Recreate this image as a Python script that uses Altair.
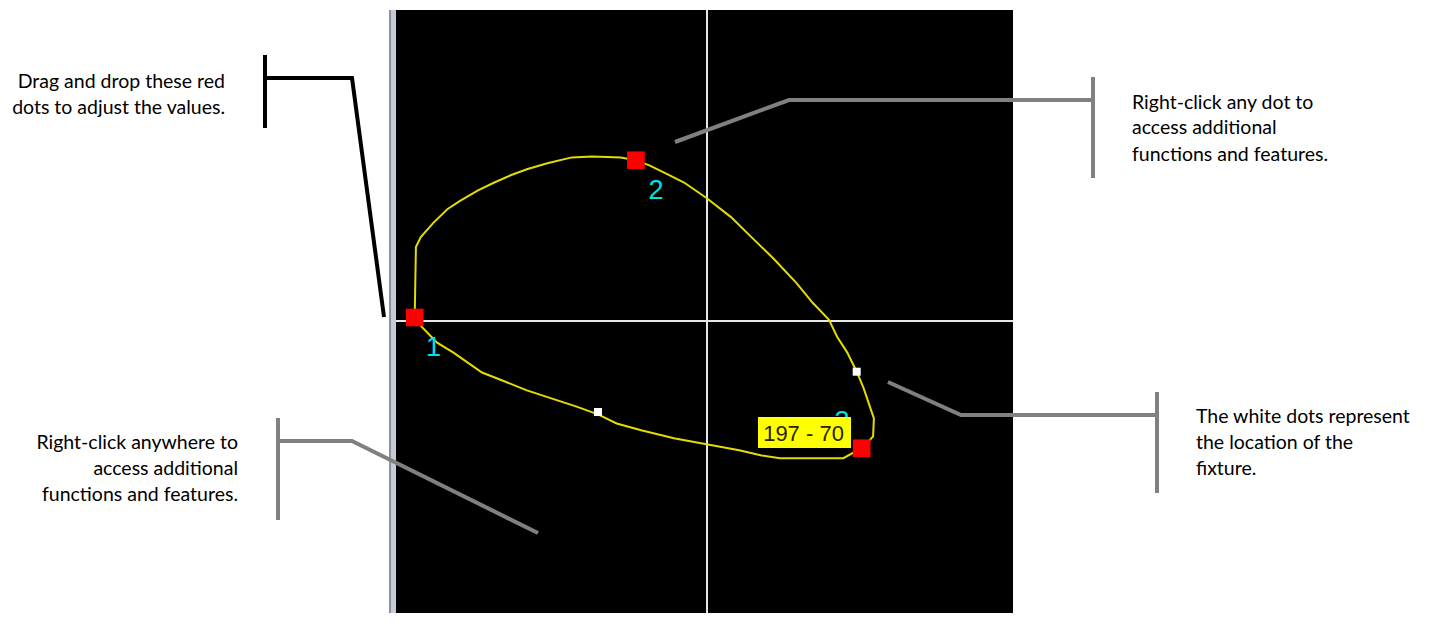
import altair as alt
import pandas as pd

# ---- diagram geometry (page pixel coordinates) ----
panel_x = [396, 1013]; panel_y = [10, 613]
strip_a = [389, 391.5]; strip_b = [391.5, 396]
grid_vx = 707; grid_hy = 321

curve_x = [414.7, 415.9, 420.8, 433.1, 447.3, 459.6, 478.0, 494.3, 510.6, 526.9, 547.3, 571.8,
           592.2, 620.8, 635.9, 649.4, 665.7, 684.1, 706.5, 731.0, 751.4, 773.9, 796.3, 812.7,
           829.0, 837.1, 847.3, 856.7, 863.7, 869.8, 873.9, 873.1, 867.8, 861.6, 843.3, 780.0,
           761.6, 739.2, 706.5, 673.9, 641.2, 616.7, 598.0, 575.9, 551.4, 526.9, 502.4, 482.0,
           453.5, 437.1, 420.8, 414.7]
curve_y = [317.5, 247.0, 237.1, 223.1, 209.2, 201.2, 190.4, 182.5, 175.3, 169.3, 163.3, 157.4,
           156.6, 157.4, 160.2, 165.3, 173.3, 182.5, 198.0, 217.1, 237.1, 259.0, 282.9, 302.8,
           319.9, 336.7, 352.6, 371.7, 388.4, 406.4, 418.3, 436.3, 442.2, 448.2, 458.2, 458.2,
           455.4, 450.2, 444.2, 438.2, 430.3, 423.5, 414.3, 406.4, 398.4, 390.4, 380.5, 372.5,
           352.6, 342.6, 325.9, 317.5]

red_x = [414.7, 635.9, 861.7]; red_y = [317.5, 160.2, 448.2]
white_x = [598.0, 856.7]; white_y = [412.0, 371.7]
num_labels = ["1", "2", "3"]; num_x = [433.5, 656, 842]; num_y = [347.5, 191, 422]

tag_text = "197 - 70"; tag_x = [758, 851]; tag_y = [417, 448]

# callout lines: id, color, x, y
callouts = [
    ("a", "#000000", [265, 265], [55, 128]),
    ("a2", "#000000", [265, 352, 384], [78, 78, 317]),
    ("b", "#808080", [1093, 1093], [77, 178]),
    ("b2", "#808080", [675, 789, 1093], [142, 100, 100]),
    ("c", "#808080", [1157, 1157], [392, 493]),
    ("c2", "#808080", [888, 961, 1157], [382, 415, 415]),
    ("d", "#808080", [278, 278], [418, 520]),
    ("d2", "#808080", [278, 352, 538], [441, 441, 533]),
]

note_right = ["Drag and drop these red", "dots to adjust the values.",
              "Right-click anywhere to", "access additional", "functions and features."]
note_right_x = [225, 225, 238, 238, 238]
note_right_y = [82, 108, 443, 469, 495]
note_left = ["Right-click any dot to", "access additional", "functions and features.",
             "The white dots represent", "the location of the", "fixture."]
note_left_x = [1132, 1132, 1132, 1196, 1196, 1196]
note_left_y = [103, 128, 155, 417, 443, 469]

W, H = 1416, 605
X = alt.Scale(domain=[8, 8 + W])
Y = alt.Scale(domain=[8, 8 + H], reverse=True)

def xe(f):
    return alt.X(f, type="quantitative", scale=X, axis=None)

def ye(f):
    return alt.Y(f, type="quantitative", scale=Y, axis=None)

rects = pd.DataFrame({
    "x": [panel_x[0], strip_a[0], strip_b[0], tag_x[0]],
    "x2": [panel_x[1], strip_a[1], strip_b[1], tag_x[1]],
    "y": [panel_y[0], panel_y[0], panel_y[0], tag_y[0]],
    "y2": [panel_y[1], panel_y[1], panel_y[1], tag_y[1]],
    "c": ["#000000", "#8c9198", "#c3cbd8", "#ffff00"], "k": [0, 1, 2, 3],
})
bg = alt.Chart(rects[rects.k < 3]).mark_rect().encode(
    x=xe("x"), x2="x2", y=ye("y"), y2="y2", color=alt.Color("c:N", scale=None))
tagbox = alt.Chart(rects[rects.k == 3]).mark_rect().encode(
    x=xe("x"), x2="x2", y=ye("y"), y2="y2", color=alt.Color("c:N", scale=None))

grid = pd.DataFrame({"x": [grid_vx, panel_x[0]], "x2": [grid_vx, panel_x[1]],
                     "y": [panel_y[0], grid_hy], "y2": [panel_y[1], grid_hy]})
gridl = alt.Chart(grid).mark_rule(color="#e6e6e6", strokeWidth=2).encode(
    x=xe("x"), x2="x2", y=ye("y"), y2="y2")

cdf = pd.DataFrame({"x": curve_x, "y": curve_y, "i": range(len(curve_x))})
curve = alt.Chart(cdf).mark_line(color="#e4dc00", strokeWidth=2).encode(
    x=xe("x"), y=ye("y"), order="i:Q")

wdf = pd.DataFrame({"x": white_x, "y": white_y})
whites = alt.Chart(wdf).mark_square(size=64, color="#ffffff", opacity=1).encode(x=xe("x"), y=ye("y"))
rdf = pd.DataFrame({"x": red_x, "y": red_y})
reds = alt.Chart(rdf).mark_square(size=310, color="#ff0000", opacity=1).encode(x=xe("x"), y=ye("y"))

ndf = pd.DataFrame({"t": num_labels, "x": num_x, "y": num_y})
nums = alt.Chart(ndf).mark_text(font="Liberation Sans", fontSize=27, color="#00e0e8",
                                baseline="middle", align="center").encode(
    x=xe("x"), y=ye("y"), text="t:N")

tdf = pd.DataFrame({"t": [tag_text], "x": [(tag_x[0] + tag_x[1]) / 2 - 1],
                    "y": [(tag_y[0] + tag_y[1]) / 2 + 1]})
tagtext = alt.Chart(tdf).mark_text(font="Liberation Sans", fontSize=22, color="#2a2200",
                                   baseline="middle", align="center").encode(
    x=xe("x"), y=ye("y"), text="t:N")

rows = []
for cid, col, xs, ys in callouts:
    for i, (a, b) in enumerate(zip(xs, ys)):
        rows.append({"id": cid, "c": col, "x": a, "y": b, "i": i})
ldf = pd.DataFrame(rows)
lines = alt.Chart(ldf).mark_line(strokeWidth=4, strokeCap="butt").encode(
    x=xe("x"), y=ye("y"), detail="id:N", order="i:Q", color=alt.Color("c:N", scale=None))

rt = pd.DataFrame({"t": note_right, "x": note_right_x, "y": note_right_y})
lt = pd.DataFrame({"t": note_left, "x": note_left_x, "y": note_left_y})
txt_r = alt.Chart(rt).mark_text(font="Lato", fontSize=19.5, color="#000000", align="right",
                                baseline="middle").encode(x=xe("x"), y=ye("y"), text="t:N")
txt_l = alt.Chart(lt).mark_text(font="Lato", fontSize=19.5, color="#000000", align="left",
                                baseline="middle").encode(x=xe("x"), y=ye("y"), text="t:N")

chart = alt.layer(bg, gridl, curve, whites, reds, nums, tagbox, tagtext, lines, txt_r, txt_l).properties(
    width=W, height=H, padding=0, background="#ffffff",
    autosize=alt.AutoSizeParams(type="none"),
).configure_view(stroke=None)

chart.save("out.html", embed_options={"renderer": "svg", "actions": False})
